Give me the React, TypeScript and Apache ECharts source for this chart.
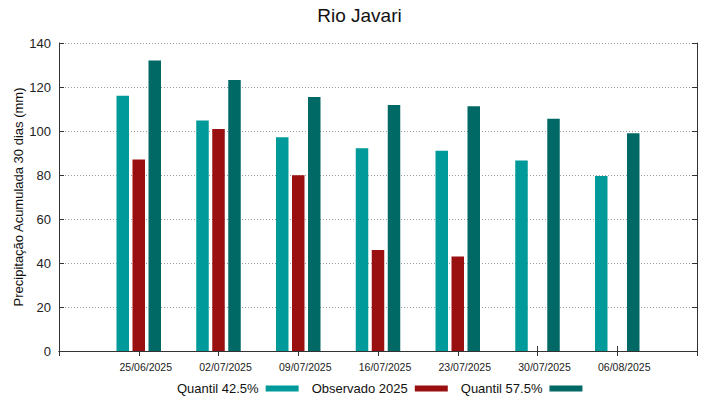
import React, { useEffect, useRef } from "react";
import * as echarts from "echarts";

const dates = ["25/06/2025", "02/07/2025", "09/07/2025", "16/07/2025", "23/07/2025", "30/07/2025", "06/08/2025"];
const quantil425 = [116.0, 104.8, 97.2, 92.2, 91.0, 86.6, 79.5];
const observado2025: (number | null)[] = [87.0, 100.9, 79.9, 45.9, 43.0, null, null];
const quantil575 = [132.1, 123.2, 115.4, 111.8, 111.3, 105.6, 99.0];
const yTicks = { min: 0, max: 140, interval: 20 };

const FONT = "'Liberation Sans', Arial, sans-serif";

export default function App() {
  const ref = useRef<HTMLDivElement>(null);
  useEffect(() => {
    document.body.style.margin = "0";
    if (!ref.current) return;
    const chart = echarts.init(ref.current, undefined, { renderer: "svg" });
    const cats = ["", ...dates, ""];
    const pad = (arr: (number | null)[]) => [null, ...arr, null];
    const barCommon = {
      type: "bar" as const,
      barWidth: 12.5,
      barGap: "28%",
      xAxisIndex: 0,
      yAxisIndex: 0,
    };
    chart.setOption({
      animation: false,
      textStyle: { fontFamily: FONT },
      title: {
        text: "Rio Javari",
        left: "center",
        top: 1,
        textStyle: { fontSize: 19, fontWeight: "normal", color: "#111", fontFamily: FONT },
      },
      grid: { left: 59, right: 22, top: 43, bottom: 48, containLabel: false, outerBoundsMode: "none" },
      legend: {
        left: 177,
        top: 382,
        padding: 0,
        align: "right",
        icon: "rect",
        itemWidth: 33,
        itemHeight: 6,
        itemGap: 13,
        textStyle: { fontSize: 13, color: "#111", fontFamily: FONT, padding: [0, 2, 0, 0] },
        data: ["Quantil 42.5%", "Observado 2025", "Quantil 57.5%"],
      },
      xAxis: [
        {
          type: "category",
          data: cats,
          boundaryGap: false,
          position: "bottom",
          axisLine: { show: true, lineStyle: { color: "#333", width: 1 } },
          axisTick: { show: true, inside: true, length: 5, lineStyle: { color: "#333" } },
          axisLabel: {
            fontSize: 10.5,
            color: "#222",
            margin: 10,
            interval: 0,
            fontFamily: FONT,
            padding: [0, 0, 0, 14],
          },
          splitLine: { show: false },
        },
        {
          type: "category",
          data: cats,
          boundaryGap: false,
          position: "top",
          axisLine: { show: true, lineStyle: { color: "#333", width: 1 } },
          axisTick: { show: true, inside: true, length: 5, lineStyle: { color: "#333" } },
          axisLabel: { show: false },
          splitLine: { show: false },
        },
      ],
      yAxis: [
        {
          type: "value",
          min: yTicks.min,
          max: yTicks.max,
          interval: yTicks.interval,
          position: "left",
          name: "Precipitação Acumulada 30 dias (mm)",
          nameLocation: "middle",
          nameGap: 34,
          nameMoveOverlap: false,
          nameTextStyle: { fontSize: 13, color: "#111", fontFamily: FONT },
          axisLine: { show: true, lineStyle: { color: "#333", width: 1 } },
          axisTick: { show: true, inside: true, length: 5, lineStyle: { color: "#333" } },
          axisLabel: { fontSize: 13, color: "#222", margin: 8, fontFamily: FONT },
          splitLine: { show: true, lineStyle: { type: [1, 2], color: "#999", width: 1 } },
        },
        {
          type: "value",
          min: yTicks.min,
          max: yTicks.max,
          interval: yTicks.interval,
          position: "right",
          axisLine: { show: true, lineStyle: { color: "#333", width: 1 } },
          axisTick: { show: true, inside: true, length: 5, lineStyle: { color: "#333" } },
          axisLabel: { show: false },
          splitLine: { show: false },
        },
      ],
      series: [
        { ...barCommon, name: "Quantil 42.5%", data: pad(quantil425), itemStyle: { color: "#009a9a" } },
        { ...barCommon, name: "Observado 2025", data: pad(observado2025), itemStyle: { color: "#9a1010" } },
        { ...barCommon, name: "Quantil 57.5%", data: pad(quantil575), itemStyle: { color: "#006966" } },
      ],
    });
    return () => chart.dispose();
  }, []);
  return <div ref={ref} style={{ width: 719, height: 399 }} />;
}
